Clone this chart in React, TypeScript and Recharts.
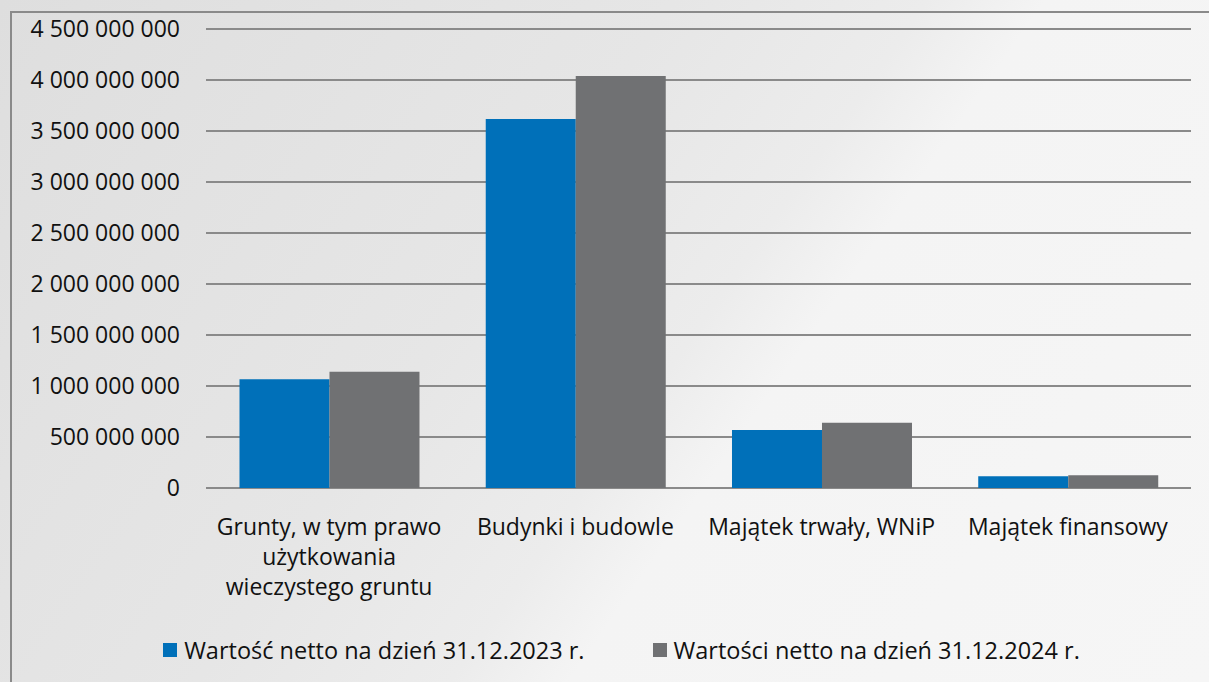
import { BarChart, Bar, XAxis, YAxis, CartesianGrid, Legend } from "recharts";

const categories = [
  "Grunty, w tym prawo\nużytkowania\nwieczystego gruntu",
  "Budynki i budowle",
  "Majątek trwały, WNiP",
  "Majątek finansowy",
];
const values2023 = [1066000000, 3618000000, 569000000, 115000000];
const values2024 = [1140000000, 4039000000, 640000000, 125000000];
const yTicks = [0, 500000000, 1000000000, 1500000000, 2000000000, 2500000000, 3000000000, 3500000000, 4000000000, 4500000000];
const seriesNames = ["Wartość netto na dzień 31.12.2023 r.", "Wartości netto na dzień 31.12.2024 r."];

const data = categories.map((name, i) => ({ name, a: values2023[i], b: values2024[i] }));

const BLUE = "#0070b9";
const GRAY = "#707173";
const FONT = "'Open Sans', sans-serif";

const fmt = (v: number) => String(v).replace(/\B(?=(\d{3})+(?!\d))/g, " ");

function CategoryTick({ x, y, payload }: any) {
  const lines = String(payload.value).split("\n");
  return (
    <text x={x} y={y} textAnchor="middle" fill="#111" fontSize={23} fontFamily={FONT}>
      {lines.map((l, i) => (
        <tspan key={i} x={x} dy={i === 0 ? 39 : 30}>
          {l}
        </tspan>
      ))}
    </text>
  );
}

function LegendContent() {
  const colors = [BLUE, GRAY];
  return (
    <div style={{ height: 40, paddingLeft: 52, boxSizing: "border-box", display: "flex", alignItems: "center", justifyContent: "center", gap: 68, fontFamily: FONT, fontSize: 23.5, color: "#111" }}>
      {seriesNames.map((n, i) => (
        <div key={n} style={{ display: "flex", alignItems: "center" }}>
          <span style={{ width: 14, height: 14, background: colors[i], display: "inline-block", marginRight: 7 }} />
          <span>{n}</span>
        </div>
      ))}
    </div>
  );
}

export default function App() {
  return (
    <div
      style={{
        position: "absolute",
        left: 0,
        top: 0,
        width: 1209,
        height: 682,
        overflow: "hidden",
        background: "linear-gradient(125deg, #dedede 0%, #e6e6e6 40%, #ececec 55%, #f4f4f4 62%, #f6f6f6 100%)",
      }}
    >
      <div
        style={{
          position: "absolute",
          left: 10,
          top: 11,
          width: 1220,
          height: 700,
          border: "2px solid #8a8a8a",
        }}
      />
      <div style={{ position: "absolute", left: 0, top: 0 }}>
        <BarChart
          width={1209}
          height={682}
          data={data}
          margin={{ top: 29, right: 18, bottom: 12, left: 0 }}
          barCategoryGap="13.6%"
          barGap={0}
        >
          <CartesianGrid vertical={false} stroke="#8a8a8a" strokeWidth={2} />
          <XAxis
            dataKey="name"
            height={142}
            axisLine={false}
            tickLine={false}
            interval={0}
            tick={<CategoryTick />}
          />
          <YAxis
            width={206}
            domain={[0, 4500000000]}
            ticks={yTicks}
            tickFormatter={fmt}
            axisLine={false}
            tickLine={false}
            tickSize={0}
            tickMargin={26}
            tick={{ fill: "#111", fontSize: 23, fontFamily: FONT }}
          />
          <Legend verticalAlign="bottom" content={<LegendContent />} />
          <Bar dataKey="a" name={seriesNames[0]} fill={BLUE} isAnimationActive={false} />
          <Bar dataKey="b" name={seriesNames[1]} fill={GRAY} isAnimationActive={false} />
        </BarChart>
      </div>
    </div>
  );
}
